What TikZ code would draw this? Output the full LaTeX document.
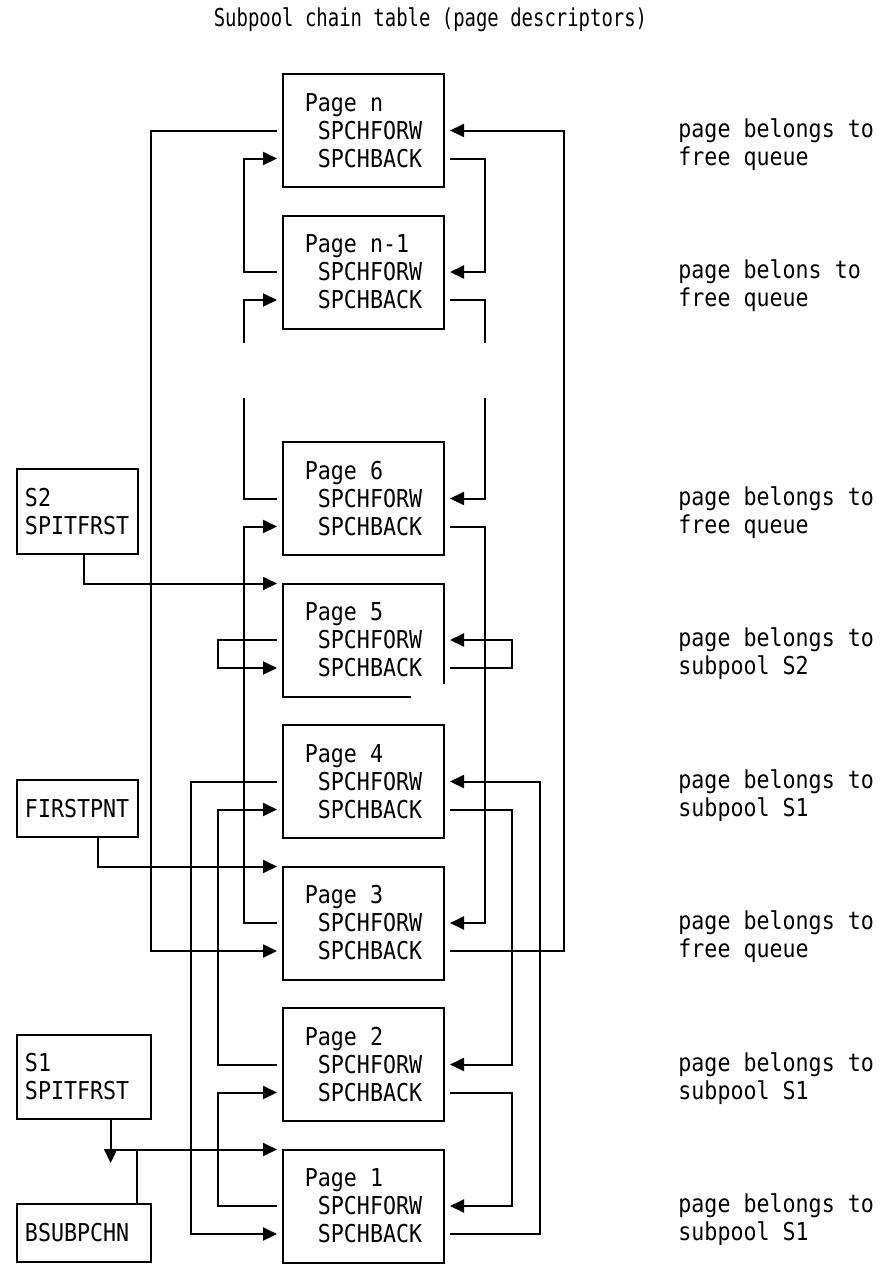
\documentclass[tikz,border=0pt]{standalone}
\usepackage{fontspec}
\setmonofont{DejaVu Sans Mono}[FakeStretch=0.88]
\newfontfamily\ttlfam{DejaVu Sans Mono}[FakeStretch=0.77]
\usetikzlibrary{arrows.meta,calc,positioning}
\newcommand{\chfont}{\fontsize{12.3pt}{14pt}\selectfont\ttfamily}
\newcommand{\ttlfont}{\fontsize{12.3pt}{14pt}\selectfont\ttlfam}

\begin{document}
\begin{tikzpicture}[
  x=0.5pt, y=-0.5pt,
  pbox/.style = {draw, line width=1pt, align=left, font=\chfont,
                 minimum width=80.5pt, minimum height=56.5pt,
                 inner sep=0pt, outer xsep=3pt, outer ysep=0pt},
  lbox/.style = {draw, line width=1pt, align=left, font=\chfont,
                 text width=#1, inner xsep=4pt, inner ysep=0pt, outer sep=0pt},
  note/.style = {anchor=west, align=left, font=\chfont, inner sep=0pt},
  ln/.style   = {line width=1pt},
  arr/.style  = {-{Triangle[length=7pt,width=6.5pt]}, line width=1pt},
  node distance = 14.25pt,
]
\useasboundingbox (0,0) rectangle (882,1270);

\node[font=\ttlfont] (ttl) at (430.5,20) {Subpool chain table (page descriptors)};

% page descriptors
\node[pbox] (pn) at (363.5,130.5) {Page n\\~SPCHFORW\\~SPCHBACK};
\node[pbox, below=of pn] (pn1) {Page n-1\\~SPCHFORW\\~SPCHBACK};
\node[pbox, below=56.75pt of pn1] (p6) {Page 6\\~SPCHFORW\\~SPCHBACK};
\node[pbox, draw=none, below=of p6] (p5) {Page 5\\~SPCHFORW\\~SPCHBACK};
\node[pbox, below=of p5] (p4) {Page 4\\~SPCHFORW\\~SPCHBACK};
\node[pbox, below=of p4] (p3) {Page 3\\~SPCHFORW\\~SPCHBACK};
\node[pbox, below=of p3] (p2) {Page 2\\~SPCHFORW\\~SPCHBACK};
\node[pbox, below=of p2] (p1) {Page 1\\~SPCHFORW\\~SPCHBACK};
\draw[ln] ([xshift=67pt]p5.south west) -- ([xshift=3pt]p5.south west)
  -- ([xshift=3pt]p5.north west) -- ([xshift=-3pt]p5.north east)
  -- ([xshift=-3pt,yshift=6.5pt]p5.south east);

\coordinate (nx) at (678,0);
\node[note, yshift=-7pt] (npn)  at (pn -| nx)  {page belongs to\\free queue};
\node[note, yshift=-7pt] (npn1) at (pn1 -| nx) {page belons to\\free queue};
\node[note, yshift=-7pt] (np6)  at (p6 -| nx)  {page belongs to\\free queue};
\node[note, yshift=-7pt] (np5)  at (p5 -| nx)  {page belongs to\\subpool S2};
\node[note, yshift=-7pt] (np4)  at (p4 -| nx)  {page belongs to\\subpool S1};
\node[note, yshift=-7pt] (np3)  at (p3 -| nx)  {page belongs to\\free queue};
\node[note, yshift=-7pt] (np2)  at (p2 -| nx)  {page belongs to\\subpool S1};
\node[note, yshift=-7pt] (np1)  at (p1 -| nx)  {page belongs to\\subpool S1};

% anchor words
\node[lbox=52.5pt, minimum height=42.5pt] (s2) at (77.5,511.5) {S2\\SPITFRST};
\node[lbox=52.5pt, minimum height=28.5pt] (fp) at (77.5,808.5) {FIRSTPNT};
\node[lbox=59pt, minimum height=42pt] (s1) at (84,1077) {S1\\SPITFRST};
\node[lbox=59pt, minimum height=29pt] (bs) at (84,1233) {BSUBPCHN};

% chain columns
\coordinate (la) at (151,0);
\coordinate (lb) at (191,0);
\coordinate (lc) at (218,0);
\coordinate (ld) at (244,0);
\coordinate (ra) at (485,0);
\coordinate (rb) at (512,0);
\coordinate (rc) at (540,0);
\coordinate (rd) at (564,0);

% free queue
\draw[arr] (pn.west) -- (pn -| la) |- ([yshift=-14pt]p3.west);
\draw[arr] ([yshift=-14pt]p3.east) -| (rd |- pn) -- (pn.east);
\draw[arr] ([yshift=-14pt]pn.east) -| (ra |- pn1) -- (pn1.east);
\draw[arr] (pn1.west) -- (pn1 -| ld) |- ([yshift=-14pt]pn.west);
\coordinate (gla) at (244,343);
\coordinate (gra) at (485,343);
\coordinate (glb) at (244,398);
\coordinate (grb) at (485,398);
\draw[ln] ([yshift=-14pt]pn1.east) -| (gra);
\draw[arr] (gla) |- ([yshift=-14pt]pn1.west);
\draw[ln] (p6.west) -| (glb);
\draw[arr] (grb) |- (p6.east);
\draw[arr] (p3.west) -- (p3 -| ld) |- ([yshift=-14pt]p6.west);
\draw[arr] ([yshift=-14pt]p6.east) -| (ra |- p3) -- (p3.east);

% subpool S2
\draw[arr] (p5.west) -- (p5 -| lc) |- ([yshift=-14pt]p5.west);
\draw[arr] ([yshift=-14pt]p5.east) -| (rb |- p5) -- (p5.east);

% subpool S1
\draw[arr] (p4.west) -- (p4 -| lb) |- ([yshift=-14pt]p1.west);
\draw[arr] ([yshift=-14pt]p1.east) -| (rc |- p4) -- (p4.east);
\draw[arr] (p2.west) -- (p2 -| lc) |- ([yshift=-14pt]p4.west);
\draw[arr] ([yshift=-14pt]p4.east) -| (rb |- p2) -- (p2.east);
\draw[arr] (p1.west) -- (p1 -| lc) |- ([yshift=-14pt]p2.west);
\draw[arr] ([yshift=-14pt]p2.east) -| (rb |- p1) -- (p1.east);

% pointers
\draw[arr] ([xshift=3pt]s2.south) |- (p5.north west);
\draw[arr] ([xshift=10pt]fp.south) |- (p3.north west);
\coordinate (s1end) at ([xshift=13.3pt,yshift=-22pt]s1.south);
\draw[arr] ([xshift=13.3pt]s1.south) -- (s1end);
\coordinate (bsjn) at ($(s1end |- p1.north)+(6.6,0)$);
\draw[arr] (bsjn) -- (p1.north west);
\coordinate (bstop) at ($(bs.north)+(53,0)$);
\draw[ln] (bstop) -- (bstop |- p1.north);
\end{tikzpicture}
\end{document}
